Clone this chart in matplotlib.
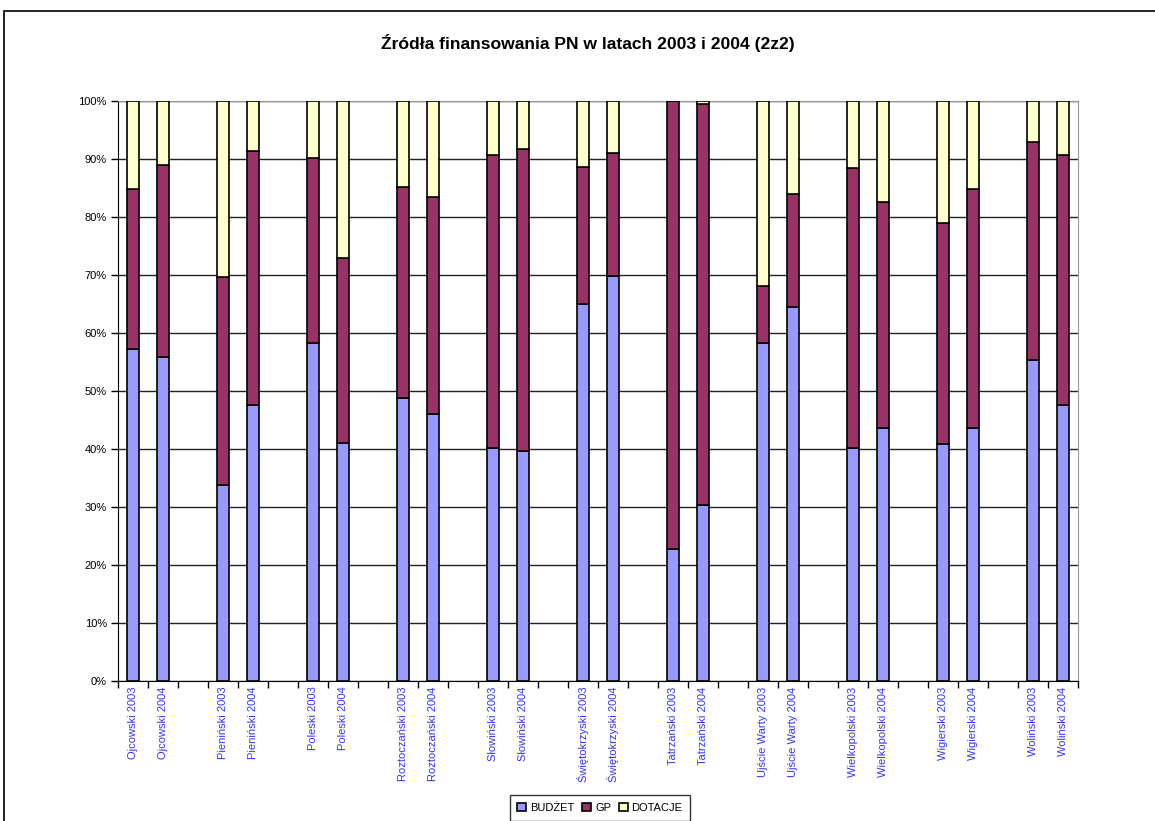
import matplotlib
matplotlib.use("Agg")
import matplotlib.pyplot as plt
import numpy as np
from matplotlib.patches import Rectangle

plt.rcParams['font.family'] = ['Liberation Sans', 'DejaVu Sans']

parks = ["Ojcowski", "Pieniński", "Poleski", "Roztoczański", "Słowiński",
         "Świętokrzyski", "Tatrzański", "Ujście Warty", "Wielkopolski",
         "Wigierski", "Woliński"]
years = ["2003", "2004"]

budzet = [57.2, 55.9, 33.8, 47.5, 58.2, 41.1, 48.8, 46.0, 40.1, 39.6, 65.0,
          69.8, 22.8, 30.3, 58.2, 64.5, 40.1, 43.7, 40.9, 43.7, 55.3, 47.5]
gp = [27.6, 33.1, 35.9, 43.8, 31.9, 31.8, 36.4, 37.4, 50.6, 52.2, 23.7,
      21.2, 77.2, 69.2, 9.9, 19.4, 48.3, 38.9, 38.1, 41.2, 37.7, 43.2]
dotacje = [15.2, 11.0, 30.3, 8.7, 9.9, 27.1, 14.8, 16.6, 9.3, 8.2, 11.3,
           9.0, 0.0, 0.5, 31.9, 16.1, 11.6, 17.4, 21.0, 15.1, 7.0, 9.3]

labels = [f"{p} {y}" for p in parks for y in years]
# category slots: two bars per park, one empty slot between parks
pos = np.array([3 * i + j for i in range(len(parks)) for j in range(2)], dtype=float)
ncat = 3 * len(parks) - 1

fig = plt.figure(figsize=(11.55, 8.21), dpi=100)
fig.patches.append(Rectangle((4 / 1155, -0.1), 1.2, 1 - 11 / 821 + 0.1,
                             transform=fig.transFigure, fill=False,
                             edgecolor='black', linewidth=1.2))

ax = fig.add_axes([118 / 1155, 140 / 821, 960 / 1155, 580 / 821])

b = np.array(budzet) / 100
g = np.array(gp) / 100
d = np.array(dotacje) / 100
w = 0.42
ec = dict(edgecolor='black', linewidth=1.2)
ax.bar(pos, b, width=w, color='#9999FF', label='BUDŻET', zorder=3, **ec)
ax.bar(pos, g, width=w, bottom=b, color='#993366', label='GP', zorder=3, **ec)
ax.bar(pos, d, width=w, bottom=b + g, color='#FFFFCC', label='DOTACJE', zorder=3, **ec)

ax.set_xlim(-0.5, ncat - 0.5)
ax.set_ylim(0, 1)
ax.set_yticks(np.arange(0, 1.01, 0.1))
ax.set_yticklabels([f"{int(round(v * 100))}%" for v in np.arange(0, 1.01, 0.1)],
                   fontsize=8)
ax.yaxis.grid(True, color='#222222', linewidth=1.0, zorder=0)
ax.set_axisbelow(True)

ax.set_xticks(np.arange(-0.5, ncat, 1.0))
ax.set_xticklabels([])
ax.set_xticks(pos, minor=True)
ax.set_xticklabels(labels, minor=True, rotation=90, fontsize=8, color='#3333FF')
ax.tick_params(axis='x', which='minor', length=0, pad=4)
ax.tick_params(axis='x', which='major', length=5, direction='out', width=1)
ax.tick_params(axis='y', length=5, direction='out', width=1, pad=3)

for s in ['top', 'right']:
    ax.spines[s].set_color('#999999')
ax.spines['left'].set_color('black')
ax.spines['bottom'].set_color('black')

fig.text(588 / 1155, 1 - 43 / 821, "Źródła finansowania PN w latach 2003 i 2004 (2z2)",
         ha='center', va='center', fontsize=12.6, fontweight='bold')

leg = fig.legend(loc='upper center', bbox_to_anchor=(600 / 1155, 26 / 821),
                 ncol=3, fontsize=8, frameon=True, fancybox=False,
                 handlelength=0.8, handleheight=0.8, handletextpad=0.35,
                 columnspacing=0.7, borderpad=0.7, borderaxespad=0)
leg.get_frame().set_edgecolor('black')
leg.get_frame().set_linewidth(1.0)

fig.savefig("out.png", dpi=100)
